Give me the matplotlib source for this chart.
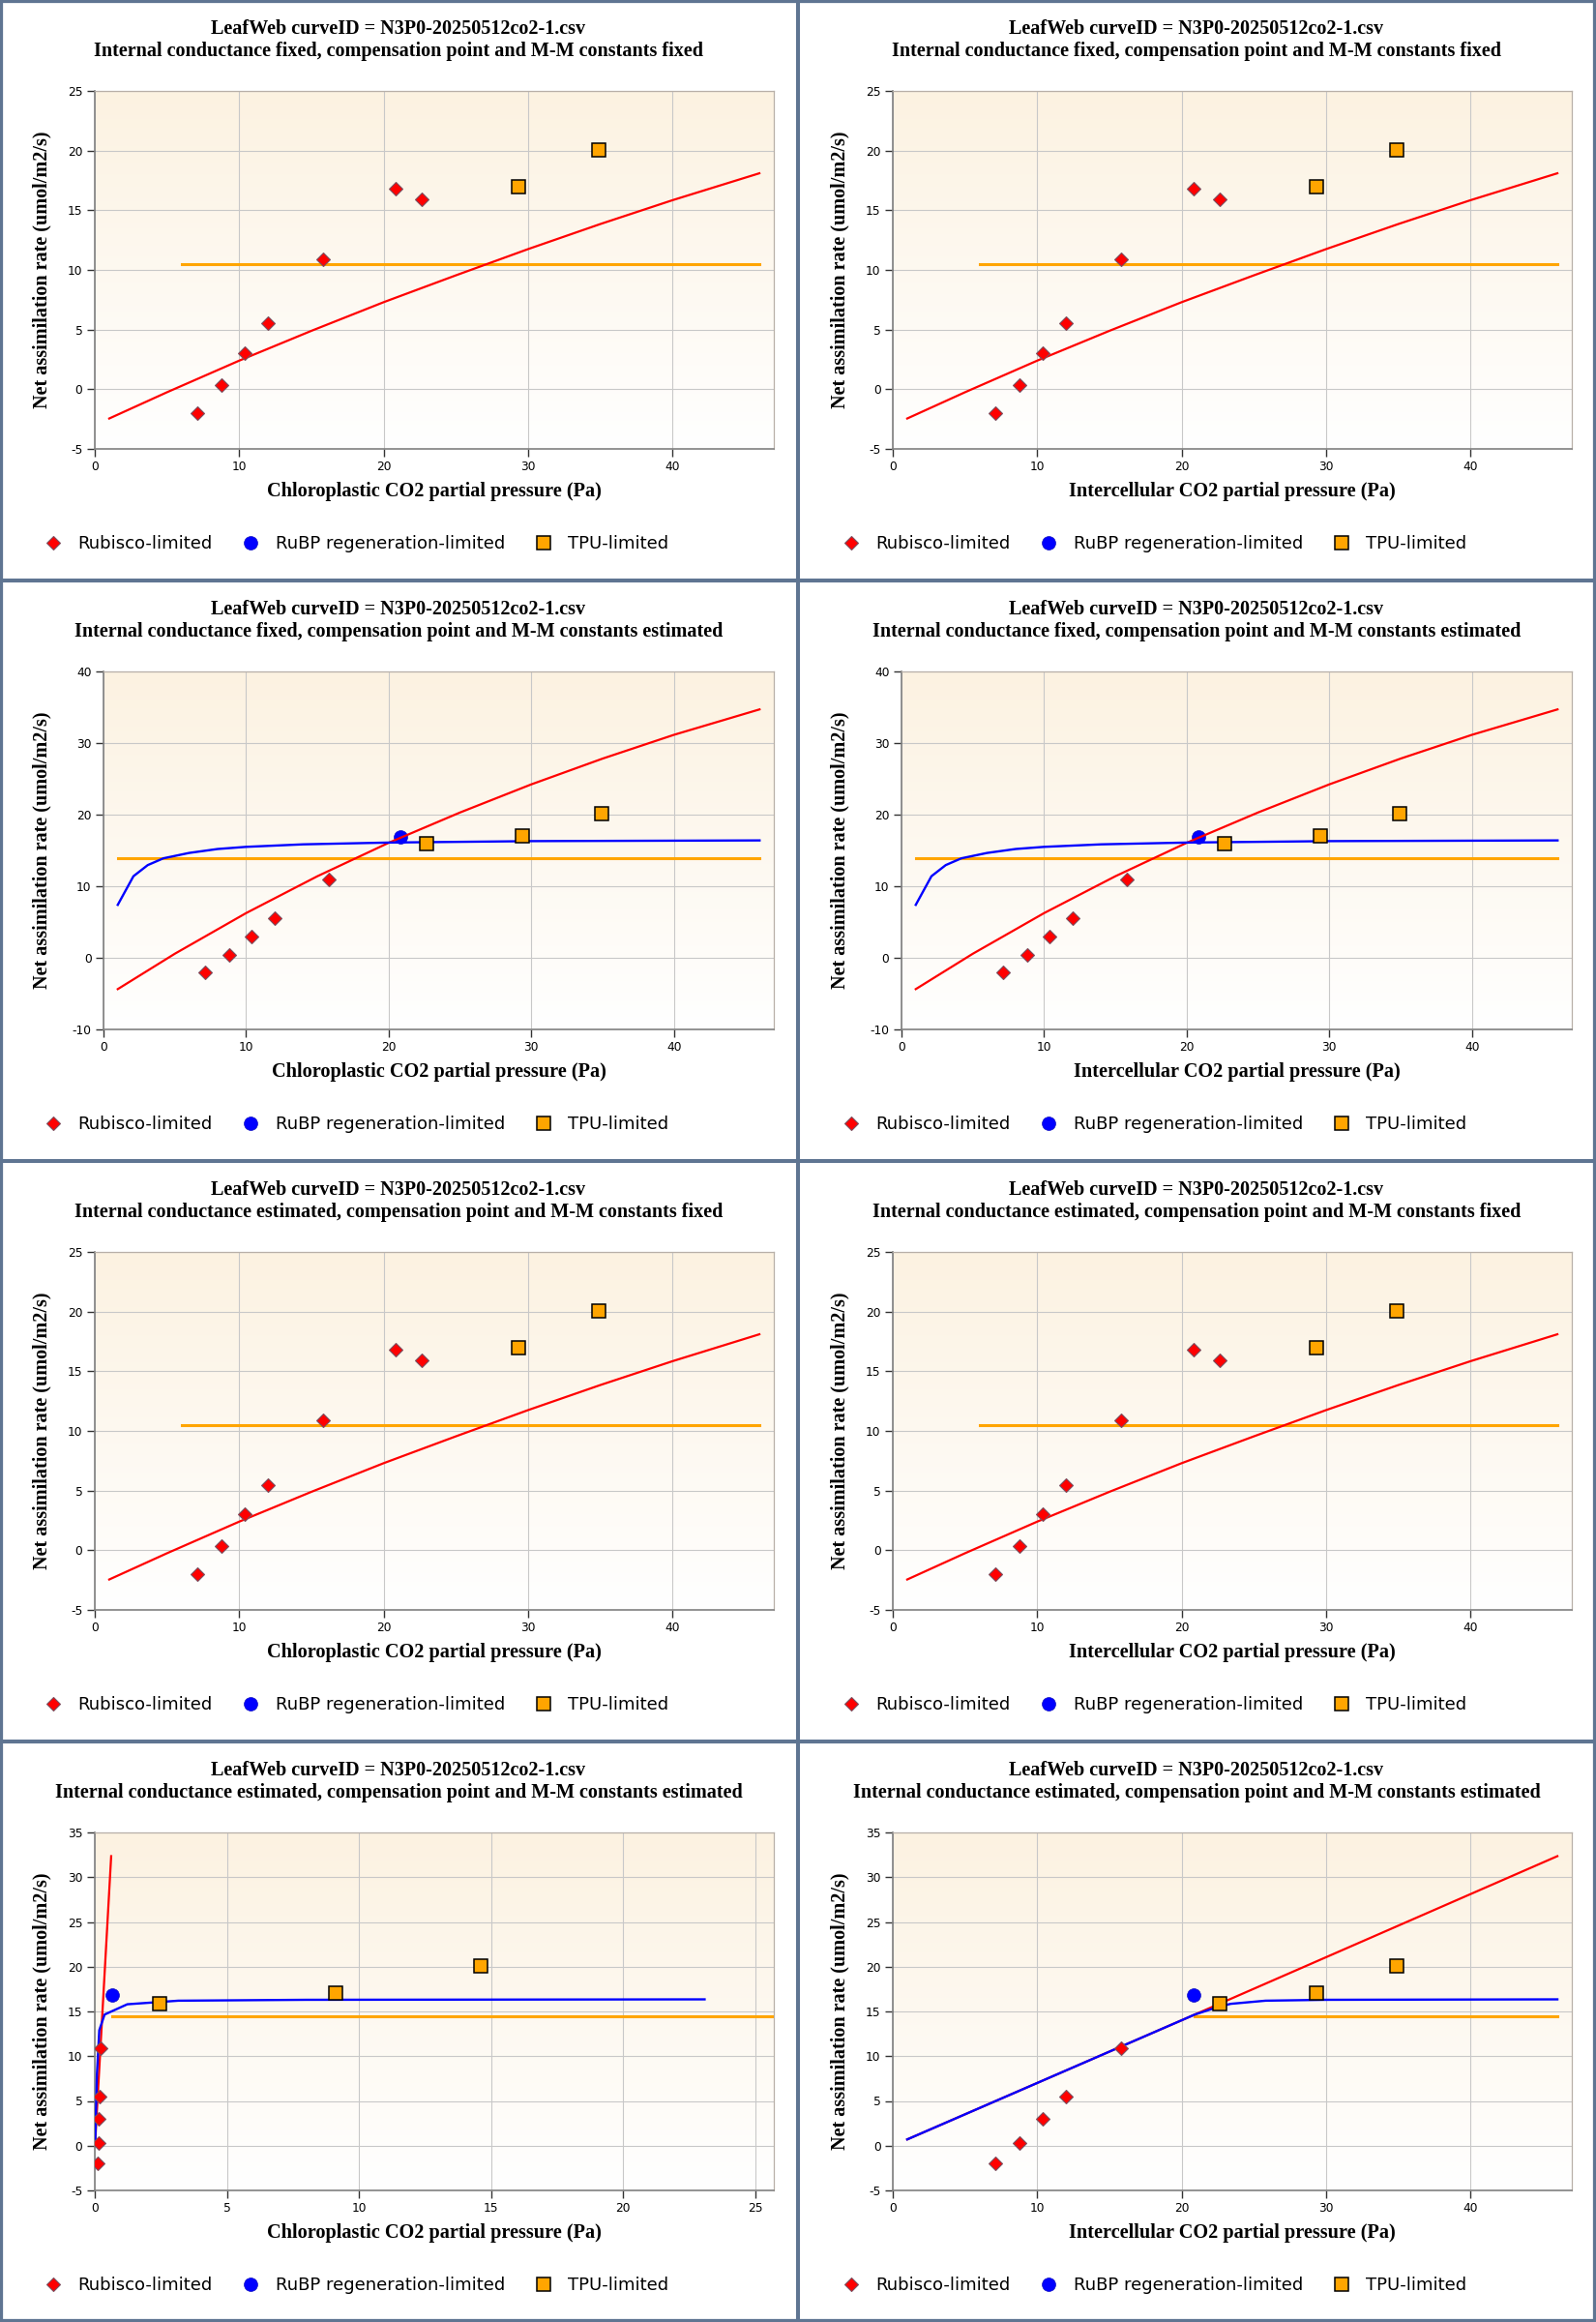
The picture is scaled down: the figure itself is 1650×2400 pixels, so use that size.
import matplotlib
matplotlib.use('Agg')
import matplotlib.pyplot as plt
import numpy as np
from matplotlib.lines import Line2D
from matplotlib.patches import Rectangle

plt.rcParams['axes.unicode_minus'] = False

# ---------------- text ----------------
title_main = "LeafWeb curveID = N3P0-20250512co2-1.csv"
subtitles = [
    "Internal conductance fixed, compensation point and M-M constants fixed",
    "Internal conductance fixed, compensation point and M-M constants fixed",
    "Internal conductance fixed, compensation point and M-M constants estimated",
    "Internal conductance fixed, compensation point and M-M constants estimated",
    "Internal conductance estimated, compensation point and M-M constants fixed",
    "Internal conductance estimated, compensation point and M-M constants fixed",
    "Internal conductance estimated, compensation point and M-M constants estimated",
    "Internal conductance estimated, compensation point and M-M constants estimated",
]
xlabel_cc = "Chloroplastic CO2 partial pressure (Pa)"
xlabel_ci = "Intercellular CO2 partial pressure (Pa)"
ylabel = "Net assimilation rate (umol/m2/s)"
legend_labels = ["Rubisco-limited", "RuBP regeneration-limited", "TPU-limited"]

# ---------------- data: fits with compensation point / M-M constants fixed (rows 1 and 3) ----------------
fixed_rub_x = [7.1, 8.8, 10.35, 12.0, 15.8, 20.85, 22.65]
fixed_rub_y = [-2.0, 0.35, 3.0, 5.5, 10.9, 16.85, 15.9]
fixed_rubp_x = []
fixed_rubp_y = []
fixed_tpu_x = [29.3, 34.9]
fixed_tpu_y = [17.0, 20.05]
fixed_rub_line_x = [1.0, 5, 10, 15, 20, 25, 30, 35, 40, 46]
fixed_rub_line_y = [-2.45, -0.25, 2.4, 4.9, 7.3, 9.55, 11.75, 13.85, 15.85, 18.1]
fixed_rubp_line_x = []
fixed_rubp_line_y = []
fixed_tpu_line_x = [6.0, 46.0]
fixed_tpu_line_y = [10.5, 10.5]

# ---------------- data: gm fixed, Gamma*/Km estimated (row 2) ----------------
est_rub_x = [7.1, 8.8, 10.35, 12.0, 15.8]
est_rub_y = [-2.0, 0.35, 3.0, 5.5, 10.9]
est_rubp_x = [20.85]
est_rubp_y = [16.9]
est_tpu_x = [22.65, 29.35, 34.9]
est_tpu_y = [15.9, 17.05, 20.1]
est_rub_line_x = [1.0, 5, 10, 15, 20, 25, 30, 35, 40, 46]
est_rub_line_y = [-4.37, 0.57, 6.25, 11.4, 16.07, 20.3, 24.23, 27.83, 31.15, 34.7]
est_rubp_line_x = [1.0, 2.1, 3.1, 4.2, 6.0, 8.0, 10, 14, 20, 30, 46]
est_rubp_line_y = [7.4, 11.4, 12.95, 13.9, 14.65, 15.2, 15.5, 15.85, 16.1, 16.3, 16.4]
est_tpu_line_x = [1.0, 46.0]
est_tpu_line_y = [13.9, 13.9]

# ---------------- data: all estimated, chloroplastic (row 4 left) ----------------
all_cc_rub_x = [0.115, 0.13, 0.15, 0.19, 0.23]
all_cc_rub_y = [-2.0, 0.35, 3.0, 5.5, 10.9]
all_cc_rubp_x = [0.67]
all_cc_rubp_y = [16.8]
all_cc_tpu_x = [2.47, 9.13, 14.59]
all_cc_tpu_y = [15.85, 17.05, 20.05]
all_cc_rub_line_x = [0.02, 0.62]
all_cc_rub_line_y = [0.7, 32.35]
all_cc_rubp_line_x = [0.02, 0.08, 0.17, 0.37, 1.23, 3.16, 8.0, 23.08]
all_cc_rubp_line_y = [0.7, 7.9, 12.9, 14.65, 15.8, 16.2, 16.3, 16.35]
all_cc_tpu_line_x = [0.66, 26.0]
all_cc_tpu_line_y = [14.5, 14.5]

# ---------------- data: all estimated, intercellular (row 4 right) ----------------
all_ci_rub_x = [7.1, 8.8, 10.35, 12.0, 15.8]
all_ci_rub_y = [-2.0, 0.35, 3.0, 5.5, 10.9]
all_ci_rubp_x = [20.85]
all_ci_rubp_y = [16.8]
all_ci_tpu_x = [22.65, 29.35, 34.9]
all_ci_tpu_y = [15.85, 17.05, 20.05]
all_ci_rub_line_x = [1.0, 20.9, 46.0]
all_ci_rub_line_y = [0.7, 14.65, 32.35]
all_ci_rubp_line_x = [1.0, 20.9, 22.6, 23.4, 25.8, 30, 46]
all_ci_rubp_line_y = [0.7, 14.65, 15.55, 15.85, 16.2, 16.3, 16.35]
all_ci_tpu_line_x = [20.9, 46.0]
all_ci_tpu_line_y = [14.5, 14.5]


def make_set(rx, ry, bx, by, tx, ty, rlx, rly, blx, bly, tlx, tly):
    return dict(rx=rx, ry=ry, bx=bx, by=by, tx=tx, ty=ty,
                rlx=rlx, rly=rly, blx=blx, bly=bly, tlx=tlx, tly=tly)


fixed_set = make_set(fixed_rub_x, fixed_rub_y, fixed_rubp_x, fixed_rubp_y,
                     fixed_tpu_x, fixed_tpu_y, fixed_rub_line_x, fixed_rub_line_y,
                     fixed_rubp_line_x, fixed_rubp_line_y, fixed_tpu_line_x, fixed_tpu_line_y)
est_set = make_set(est_rub_x, est_rub_y, est_rubp_x, est_rubp_y,
                   est_tpu_x, est_tpu_y, est_rub_line_x, est_rub_line_y,
                   est_rubp_line_x, est_rubp_line_y, est_tpu_line_x, est_tpu_line_y)
all_cc_set = make_set(all_cc_rub_x, all_cc_rub_y, all_cc_rubp_x, all_cc_rubp_y,
                      all_cc_tpu_x, all_cc_tpu_y, all_cc_rub_line_x, all_cc_rub_line_y,
                      all_cc_rubp_line_x, all_cc_rubp_line_y, all_cc_tpu_line_x, all_cc_tpu_line_y)
all_ci_set = make_set(all_ci_rub_x, all_ci_rub_y, all_ci_rubp_x, all_ci_rubp_y,
                      all_ci_tpu_x, all_ci_tpu_y, all_ci_rub_line_x, all_ci_rub_line_y,
                      all_ci_rubp_line_x, all_ci_rubp_line_y, all_ci_tpu_line_x, all_ci_tpu_line_y)

# panel specs: (data, xlabel, xmax, xstep, ymin, ymax, ystep, plot-left px)
panels = [
    (fixed_set, xlabel_cc, 47, 10, -5, 25, 5, 98),
    (fixed_set, xlabel_ci, 47, 10, -5, 25, 5, 98),
    (est_set, xlabel_cc, 47, 10, -10, 40, 10, 107),
    (est_set, xlabel_ci, 47, 10, -10, 40, 10, 107),
    (fixed_set, xlabel_cc, 47, 10, -5, 25, 5, 98),
    (fixed_set, xlabel_ci, 47, 10, -5, 25, 5, 98),
    (all_cc_set, xlabel_cc, 25.7, 5, -5, 35, 5, 98),
    (all_ci_set, xlabel_ci, 47, 10, -5, 35, 5, 98),
]

# ---------------- style ----------------
W, H, DPI = 1650, 2400, 100
PW, PH = 825, 600
RED = '#ff0000'
BLUE = '#0000ff'
ORANGE = '#ffa500'
BORDER = '#5f7592'
serif = ['Liberation Serif', 'DejaVu Serif']
sans = ['DejaVu Sans']

fig = plt.figure(figsize=(W / DPI, H / DPI), dpi=DPI)
fig.patch.set_facecolor('white')

grad = np.linspace(0, 1, 256).reshape(-1, 1)
top_rgb = np.array([252, 242, 225]) / 255.0
bot_rgb = np.array([255, 255, 255]) / 255.0
grad_img = top_rgb[None, None, :] * (1 - grad[:, :, None]) + bot_rgb[None, None, :] * grad[:, :, None]

PLOT_R, PLOT_T, PLOT_B = 800, 94, 464

diamond_kw = dict(ls='none', marker='D', ms=6.8, mfc=RED, mec='#7a5060', mew=0.8)
circle_kw = dict(ls='none', marker='o', ms=10, mfc=BLUE, mec='#1010c0', mew=0.5)
square_kw = dict(ls='none', marker='s', ms=10.3, mfc=ORANGE, mec='black', mew=1.1)

for i, (d, xl, xmax, xstep, ymin, ymax, ystep, L) in enumerate(panels):
    row, col = divmod(i, 2)
    x0, y0 = col * PW, row * PH
    ax = fig.add_axes([(x0 + L) / W, 1 - (y0 + PLOT_B) / H,
                       (PLOT_R - L) / W, (PLOT_B - PLOT_T) / H])
    ax.imshow(grad_img, extent=[0, 1, 0, 1], transform=ax.transAxes,
              aspect='auto', zorder=0, interpolation='bilinear')
    ax.set_xlim(0, xmax)
    ax.set_ylim(ymin, ymax)
    ax.set_xticks(np.arange(0, xmax + 0.01, xstep))
    ax.set_yticks(np.arange(ymin, ymax + 0.01, ystep))
    ax.grid(True, color='#c8c8c8', lw=0.8, zorder=1)
    ax.set_axisbelow(True)
    for s in ['top', 'right']:
        ax.spines[s].set_color('#b8b0a8')
        ax.spines[s].set_linewidth(0.9)
    for s in ['left', 'bottom']:
        ax.spines[s].set_color('#808080')
        ax.spines[s].set_linewidth(1.2)
    ax.tick_params(axis='both', direction='out', length=6, width=1, color='#333333',
                   labelsize=8.8, pad=3, top=False, right=False)
    for lab in ax.get_xticklabels() + ax.get_yticklabels():
        lab.set_family(sans)

    # RuBP points sit beneath the curves
    if d['bx']:
        ax.plot(d['bx'], d['by'], zorder=2.5, **circle_kw)
    # curves
    ax.plot(d['tlx'], d['tly'], color=ORANGE, lw=2.2, zorder=3)
    ax.plot(d['rlx'], d['rly'], color=RED, lw=1.6, zorder=4)
    if d['blx']:
        ax.plot(d['blx'], d['bly'], color=BLUE, lw=1.7, zorder=4.5)
    # Rubisco and TPU points on top
    ax.plot(d['rx'], d['ry'], zorder=6, **diamond_kw)
    ax.plot(d['tx'], d['ty'], zorder=6, **square_kw)

    ax.set_xlabel(xl, family=serif, fontweight='bold', fontsize=14.6, va='center')
    ax.xaxis.set_label_coords(0.5, (PLOT_B - 508) / (PLOT_B - PLOT_T))
    ax.set_ylabel(ylabel, family=serif, fontweight='bold', fontsize=14.5, va='center')
    ax.yaxis.set_label_coords((43 - L) / (PLOT_R - L), 0.5)

    cx = (x0 + 412) / W
    fig.text(cx, 1 - (y0 + 30) / H, title_main, ha='center', va='center',
             family=serif, fontweight='bold', fontsize=14.5)
    fig.text(cx, 1 - (y0 + 53) / H, subtitles[i], ha='center', va='center',
             family=serif, fontweight='bold', fontsize=14.5)

    handles = [Line2D([], [], **diamond_kw), Line2D([], [], **circle_kw),
               Line2D([], [], **square_kw)]
    fig.legend(handles, legend_labels, ncol=3, loc='center left',
               bbox_to_anchor=((x0 + 46) / W, 1 - (y0 + 562) / H),
               bbox_transform=fig.transFigure, frameon=False,
               prop={'family': sans, 'size': 13}, borderpad=0, borderaxespad=0,
               handlelength=1.0, handletextpad=0.89, columnspacing=1.72)

# panel borders
for row in range(4):
    for col in range(2):
        fig.add_artist(Rectangle((col * PW / W, 1 - (row + 1) * PH / H), PW / W, PH / H,
                                 transform=fig.transFigure, fill=False,
                                 edgecolor=BORDER, lw=2.9, zorder=10))
fig.add_artist(Rectangle((0, 0), 1, 1, transform=fig.transFigure, fill=False,
                         edgecolor=BORDER, lw=4.5, zorder=10))

fig.savefig('out.png', dpi=DPI)
